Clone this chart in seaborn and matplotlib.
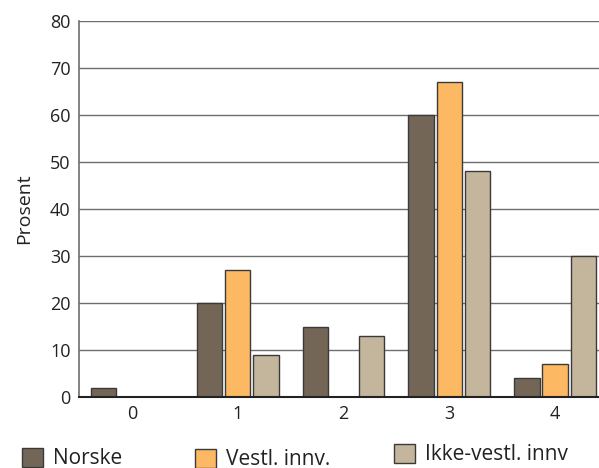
import pandas as pd
import matplotlib
matplotlib.use("Agg")
import matplotlib.pyplot as plt
import seaborn as sns

# data
categories = ["0", "1", "2", "3", "4"]
groups = ["Norske", "Vestl. innv.", "Ikke-vestl. innv"]
norske = [2, 20, 15, 60, 4]
vestl = [0, 27, 0, 67, 7]
ikke_vestl = [0, 9, 13, 48, 30]
colors = ["#736657", "#fdb863", "#c4b69d"]

rows = []
for g, vals in zip(groups, [norske, vestl, ikke_vestl]):
    for c, v in zip(categories, vals):
        rows.append({"Kategori": c, "Gruppe": g, "Prosent": v})
df = pd.DataFrame(rows)

sns.set_style("white")
plt.rcParams["font.family"] = ["Open Sans", "DejaVu Sans"]

fig = plt.figure(figsize=(5.99, 4.68), dpi=100)
ax = fig.add_axes([79 / 599, 1 - 397 / 468, 529 / 599, 376 / 468])

sns.barplot(data=df, x="Kategori", y="Prosent", hue="Gruppe", order=categories,
            hue_order=groups, palette=colors, saturation=1, width=0.8, gap=0.1,
            edgecolor="#3a3a3a", linewidth=1, ax=ax, legend=False)

ax.set_ylim(0, 80)
ax.set_xlim(-0.5, 4.5)
ax.set_yticks(range(0, 81, 10))
ax.yaxis.grid(True, color="#6e6e6e", linewidth=1)
ax.set_axisbelow(True)
ax.set_xlabel("")
ax.set_ylabel("Prosent", fontsize=14, color="#222222", labelpad=12)

ax.tick_params(axis="both", labelsize=13, colors="#222222", length=0)
ax.tick_params(axis="y", pad=6)
ax.tick_params(axis="x", pad=6)
ax.set_xticks([0.5, 1.5, 2.5, 3.5], minor=True)
ax.tick_params(axis="x", which="minor", direction="in", length=8,
               width=1, color="#333333")

for s in ["top", "right"]:
    ax.spines[s].set_visible(False)
ax.spines["left"].set_color("#6e6e6e")
ax.spines["left"].set_linewidth(1.2)
ax.spines["bottom"].set_color("#222222")
ax.spines["bottom"].set_linewidth(1.5)

# legend: one entry per box, placed like the reference
anchors = [(22 / 599, 1 - 448 / 468), (195 / 599, 1 - 449 / 468),
           (394 / 599, 1 - 444 / 468)]
for g, c, anc in zip(groups, colors, anchors):
    h = plt.Rectangle((0, 0), 1, 1, facecolor=c, edgecolor="#3a3a3a", linewidth=1)
    fig.legend([h], [g], loc="upper left", bbox_to_anchor=anc, frameon=False,
               fontsize=15, handlelength=1.0, handleheight=1.0,
               handletextpad=0.5, borderaxespad=0, borderpad=0,
               labelcolor="#222222")

fig.savefig("out.png", dpi=100)
